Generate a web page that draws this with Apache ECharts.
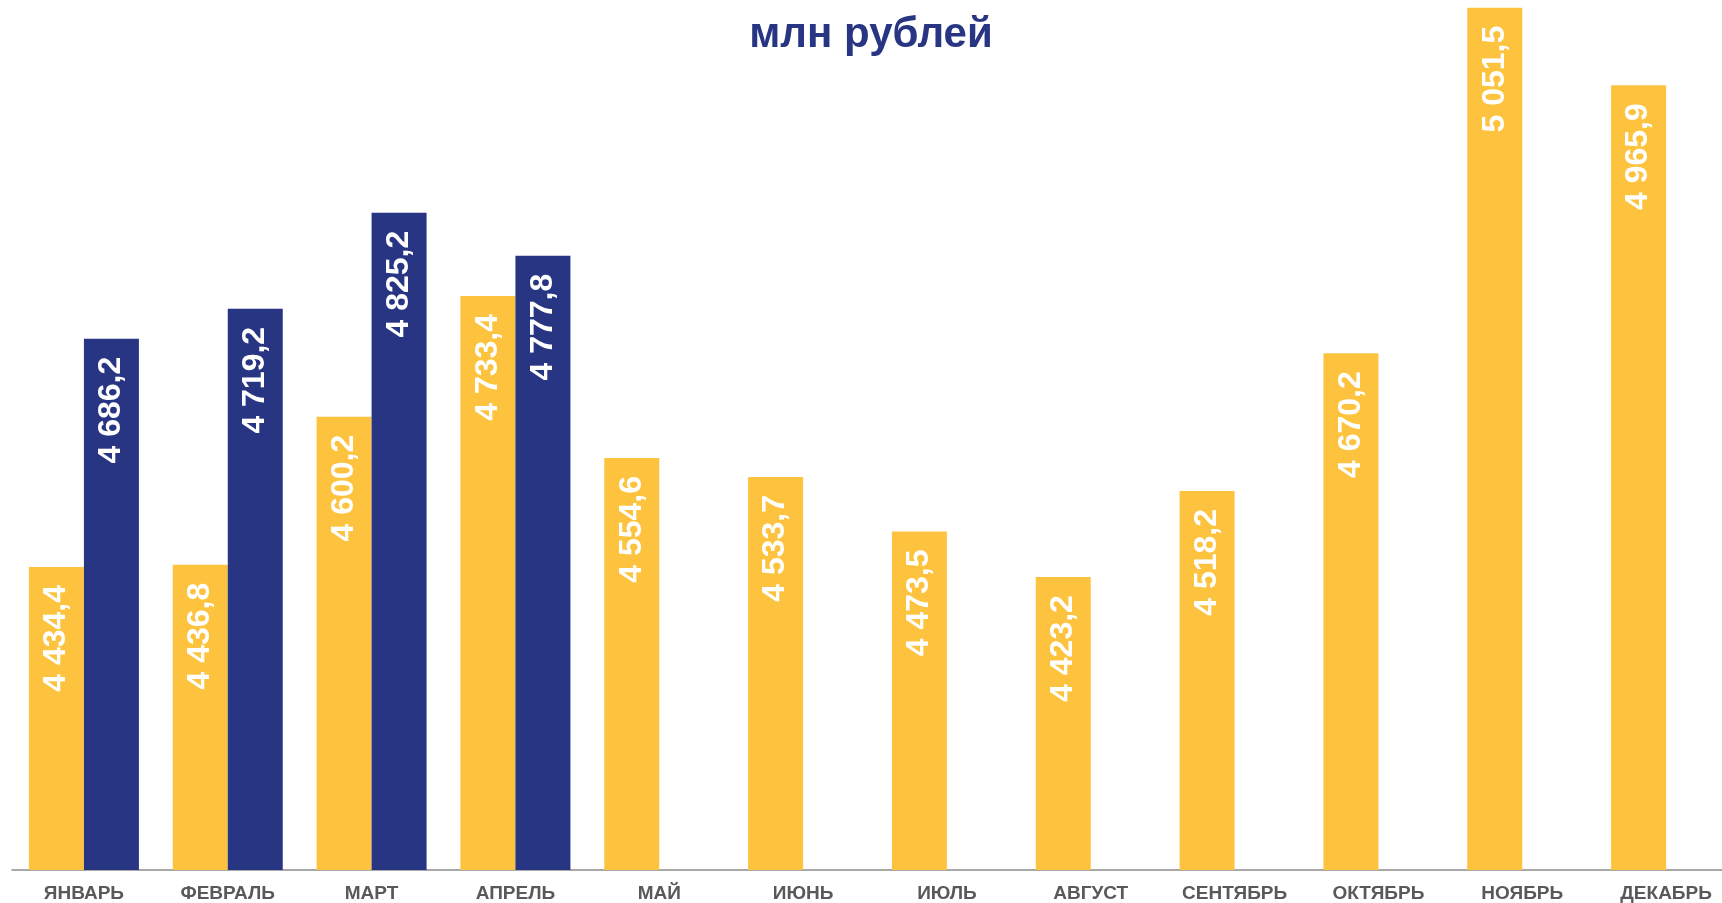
<!DOCTYPE html>
<html>
<head>
<meta charset="utf-8">
<script src="https://cdn.jsdelivr.net/npm/echarts@6/dist/echarts.min.js"></script>
<style>
  html, body { margin: 0; padding: 0; background: #fff; overflow: hidden; }
  /* a bit wider than the window: the last category is clipped in the original too */
  #chart { width: 1740px; height: 903px; }
</style>
</head>
<body>
<div id="chart"></div>
<script>
var months = ['ЯНВАРЬ', 'ФЕВРАЛЬ', 'МАРТ', 'АПРЕЛЬ', 'МАЙ', 'ИЮНЬ', 'ИЮЛЬ', 'АВГУСТ', 'СЕНТЯБРЬ', 'ОКТЯБРЬ', 'НОЯБРЬ', 'ДЕКАБРЬ'];
var prevYear = [4434.4, 4436.8, 4600.2, 4733.4, 4554.6, 4533.7, 4473.5, 4423.2, 4518.2, 4670.2, 5051.5, 4965.9];
var currYear = [4686.2, 4719.2, 4825.2, 4777.8, '-', '-', '-', '-', '-', '-', '-', '-'];

// 4434.4 -> "4 434,4"
function ruNum(v) {
    var parts = v.toFixed(1).split('.');
    return parts[0].replace(/\B(?=(\d{3})+(?!\d))/g, ' ') + ',' + parts[1];
}

var chart = echarts.init(document.getElementById('chart'));

var barLabel = {
    show: true,
    position: 'insideTop',
    rotate: 90,
    align: 'right',
    verticalAlign: 'middle',
    distance: 18,
    color: '#ffffff',
    fontFamily: 'Liberation Sans, Arial, sans-serif',
    fontWeight: 'bold',
    fontSize: 32,
    formatter: function (p) { return ruNum(p.value); }
};

var option = {
    animation: false,
    title: {
        text: 'млн рублей',
        left: 866,
        top: 9,
        textAlign: 'center',
        textStyle: {
            color: '#283583',
            fontFamily: 'Liberation Sans, Arial, sans-serif',
            fontWeight: 'bold',
            fontSize: 42
        }
    },
    grid: { left: 12, top: 0, right: 2, bottom: 33, containLabel: false },
    xAxis: {
        type: 'category',
        data: months,
        axisLine: { lineStyle: { color: '#8c8c8c', width: 1.5 } },
        axisTick: { show: false },
        axisLabel: {
            color: '#595959',
            fontFamily: 'Liberation Sans, Arial, sans-serif',
            fontWeight: 'bold',
            fontSize: 19,
            margin: 14,
            interval: 0
        }
    },
    yAxis: {
        type: 'value',
        min: 4100,
        max: 5060,
        show: false,
        splitLine: { show: false }
    },
    series: [
        {
            name: 'prev',
            type: 'bar',
            data: prevYear,
            barWidth: 55,
            barGap: '0%',
            itemStyle: { color: '#FEC33E' },
            label: barLabel
        },
        {
            name: 'curr',
            type: 'bar',
            data: currYear,
            barWidth: 55,
            itemStyle: { color: '#283583' },
            label: barLabel
        }
    ]
};
chart.setOption(option);
</script>
</body>
</html>
